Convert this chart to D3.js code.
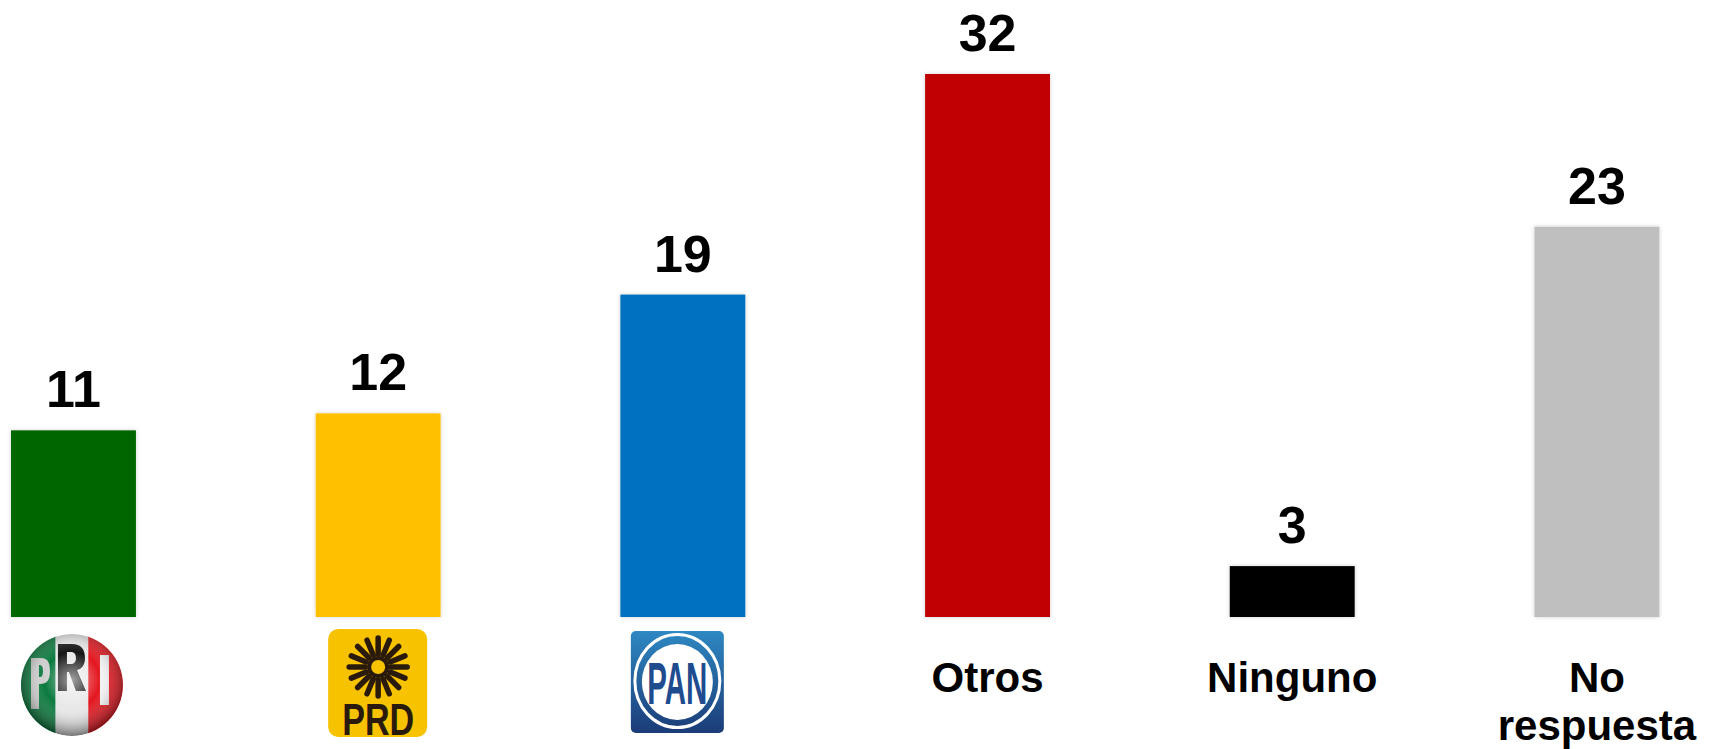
<!DOCTYPE html>
<html>
<head>
<meta charset="utf-8">
<script src="https://cdn.jsdelivr.net/npm/d3@7"></script>
<style>
  html, body { margin: 0; padding: 0; background: #fff; }
  svg { display: block; }
</style>
</head>
<body>
<script>
// chart data
const categories = ["PRI", "PRD", "PAN", "Otros", "Ninguno", "No respuesta"];
const values = [11, 12, 19, 32, 3, 23];
const barColors = ["#006600", "#FFC000", "#0070C0", "#C00000", "#000000", "#BFBFBF"];
// label lines under each bar; party names are shown as logos instead
const categoryLabels = [[], [], [], ["Otros"], ["Ninguno"], ["No", "respuesta"]];

// layout
const width = 1710;
const height = 749;
const baseline = 617;
const plotTop = 74;
const font = "'Liberation Sans', Arial, Helvetica, sans-serif";

const svg = d3.select("body").append("svg")
  .attr("width", width)
  .attr("height", height);

const defs = svg.append("defs");

const shadow = defs.append("filter").attr("id", "shadow")
  .attr("x", "-20%").attr("y", "-5%").attr("width", "140%").attr("height", "110%");
shadow.append("feDropShadow")
  .attr("dx", 0).attr("dy", 0).attr("stdDeviation", 2)
  .attr("flood-color", "#000").attr("flood-opacity", 0.18);

const xScale = d3.scaleBand()
  .domain(categories)
  .range([11, 1659.4])
  .paddingInner(0.59)
  .paddingOuter(0);

const yScale = d3.scaleLinear()
  .domain([0, 32])
  .range([baseline, plotTop]);

function center(name) { return xScale(name) + xScale.bandwidth() / 2; }

// bars
svg.selectAll(".bar")
  .data(values)
  .enter()
  .append("rect")
  .attr("class", "bar")
  .attr("x", function(d, i) { return xScale(categories[i]); })
  .attr("y", function(d) { return yScale(d); })
  .attr("width", xScale.bandwidth())
  .attr("height", function(d) { return baseline - yScale(d); })
  .attr("fill", function(d, i) { return barColors[i]; })
  .attr("filter", "url(#shadow)");

// value labels
svg.selectAll(".value")
  .data(values)
  .enter()
  .append("text")
  .attr("class", "value")
  .attr("x", function(d, i) { return center(categories[i]); })
  .attr("y", function(d) { return yScale(d) - 23; })
  .attr("text-anchor", "middle")
  .attr("font-family", font)
  .attr("font-weight", "bold")
  .attr("font-size", 52)
  .attr("fill", "#000")
  .text(function(d) { return d; });

// text category labels
svg.selectAll(".cat")
  .data(categoryLabels)
  .enter()
  .append("text")
  .attr("class", "cat")
  .attr("y", 692)
  .attr("text-anchor", "middle")
  .attr("font-family", font)
  .attr("font-weight", "bold")
  .attr("font-size", 42)
  .attr("fill", "#000")
  .each(function(d, i) {
    const t = d3.select(this);
    const cx = center(categories[i]);
    d.forEach(function(line, j) {
      t.append("tspan").attr("x", cx).attr("dy", j === 0 ? 0 : 48).text(line);
    });
  });

// PRI logo (sphere with the three letters drawn as shapes)
(function() {
  const cx = center("PRI") - 1.5, cy = 685, r = 51;
  const g = svg.append("g").attr("transform", "translate(" + cx + "," + cy + ")");
  defs.append("clipPath").attr("id", "priClip")
    .append("circle").attr("r", r);
  const shade = defs.append("radialGradient").attr("id", "priShade")
    .attr("cx", "50%").attr("cy", "45%").attr("r", "55%");
  shade.append("stop").attr("offset", "0%").attr("stop-color", "#fff").attr("stop-opacity", 0.6);
  shade.append("stop").attr("offset", "50%").attr("stop-color", "#fff").attr("stop-opacity", 0);
  shade.append("stop").attr("offset", "100%").attr("stop-color", "#000").attr("stop-opacity", 0.5);
  const c = g.append("g").attr("clip-path", "url(#priClip)");
  c.append("rect").attr("x", -r).attr("y", -r).attr("width", r * 0.68).attr("height", 2 * r).attr("fill", "#0B7A3E");
  c.append("rect").attr("x", -r * 0.32).attr("y", -r).attr("width", r * 0.64).attr("height", 2 * r).attr("fill", "#E8E8E8");
  c.append("rect").attr("x", r * 0.32).attr("y", -r).attr("width", r * 0.68).attr("height", 2 * r).attr("fill", "#E3161F");
  // P
  c.append("path")
    .attr("d", "M-41,24 V-27 H-31 C-24,-27 -22,-22 -22,-14 C-22,-5 -25,-1 -32,-1 H-33 V24 Z " +
               "M-33,-20 V-8 H-32 C-30,-8 -29,-10 -29,-14 C-29,-18 -30,-20 -32,-20 Z")
    .attr("fill-rule", "evenodd")
    .attr("fill", "#CFCFCF");
  // R
  c.append("path")
    .attr("d", "M-14,6 V-41 H0 C9,-41 13,-36 13,-27 C13,-20 10,-16 5,-15 L14,6 H4 L-3,-13 H-5 V6 Z " +
               "M-5,-33 V-21 H-1 C2,-21 4,-23 4,-27 C4,-31 2,-33 -1,-33 Z")
    .attr("fill-rule", "evenodd")
    .attr("fill", "#151515");
  // I
  c.append("rect").attr("x", 28).attr("y", -30).attr("width", 9).attr("height", 50).attr("fill", "#F2F2F2");
  c.append("circle").attr("r", r).attr("fill", "url(#priShade)");
})();

// PRD logo
(function() {
  const cx = center("PRD"), x0 = cx - 50, y0 = 629;
  const g = svg.append("g");
  g.append("rect").attr("x", x0).attr("y", y0).attr("width", 99).attr("height", 108)
    .attr("rx", 10).attr("fill", "#F7C300");
  const sx = cx, sy = 667;
  const rays = d3.range(16);
  g.selectAll(".ray").data(rays).enter().append("line")
    .attr("x1", function(d) { return sx + 13 * Math.cos(d * Math.PI / 8); })
    .attr("y1", function(d) { return sy + 13 * Math.sin(d * Math.PI / 8); })
    .attr("x2", function(d) { return sx + 29 * Math.cos(d * Math.PI / 8); })
    .attr("y2", function(d) { return sy + 29 * Math.sin(d * Math.PI / 8); })
    .attr("stroke", "#2A1A0C").attr("stroke-width", 5.5).attr("stroke-linecap", "round");
  g.append("circle").attr("cx", sx).attr("cy", sy).attr("r", 9)
    .attr("fill", "#F7C300").attr("stroke", "#2A1A0C").attr("stroke-width", 4);
  g.append("text").attr("x", cx).attr("y", 735).attr("text-anchor", "middle")
    .attr("font-family", font).attr("font-weight", "bold").attr("font-size", 44)
    .attr("textLength", 72).attr("lengthAdjust", "spacingAndGlyphs")
    .attr("fill", "#2A1A0C").text("PRD");
})();

// PAN logo
(function() {
  const cx = center("PAN") - 5.5, x0 = cx - 46.5, y0 = 631;
  const grad = defs.append("linearGradient").attr("id", "panGrad")
    .attr("x1", 0).attr("y1", 0).attr("x2", 0).attr("y2", 1);
  grad.append("stop").attr("offset", "0%").attr("stop-color", "#2E88C2");
  grad.append("stop").attr("offset", "100%").attr("stop-color", "#1B3C78");
  const g = svg.append("g");
  g.append("rect").attr("x", x0).attr("y", y0).attr("width", 93).attr("height", 102)
    .attr("rx", 5).attr("fill", "url(#panGrad)");
  g.append("ellipse").attr("cx", cx).attr("cy", 681).attr("rx", 42.5).attr("ry", 46.5)
    .attr("fill", "none").attr("stroke", "#fff").attr("stroke-width", 3);
  g.append("ellipse").attr("cx", cx).attr("cy", 682).attr("rx", 35.5).attr("ry", 38)
    .attr("fill", "#fff");
  g.append("text").attr("x", cx).attr("y", 704).attr("text-anchor", "middle")
    .attr("font-family", font).attr("font-weight", "bold").attr("font-size", 60)
    .attr("textLength", 60).attr("lengthAdjust", "spacingAndGlyphs")
    .attr("fill", "#1F4C8F").text("PAN");
})();
</script>
</body>
</html>
